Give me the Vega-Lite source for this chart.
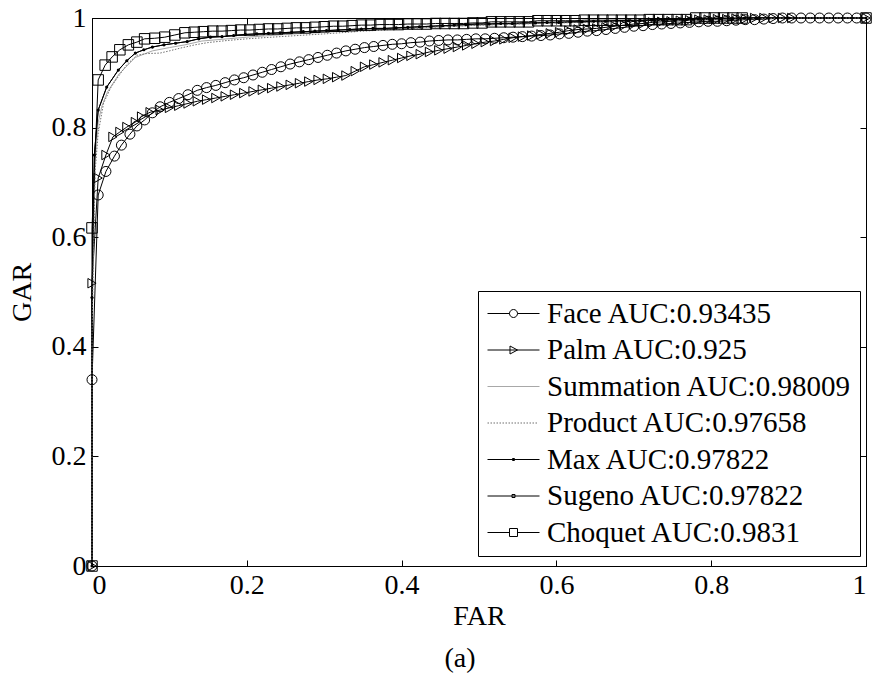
{
"$schema":"https://vega.github.io/schema/vega-lite/v6.json",
"width":774,"height":548,
"autosize":{"type":"none"},
"padding":{"left":92,"top":18,"right":6,"bottom":113},
"background":"white",
"config":{
 "font":"Liberation Serif",
 "view":{"stroke":"black","strokeWidth":1}
},
"title":{"text":"(a)","orient":"bottom","font":"Liberation Serif","fontSize":28,"fontWeight":"normal","color":"black","dx":-19,"offset":15},
"data":{"values":[
{"s":"Face","x":0,"y":0},{"s":"Face","x":0,"y":0.34},{"s":"Face","x":0.008,"y":0.677},{"s":"Face","x":0.018,"y":0.72},{"s":"Face","x":0.029,"y":0.748},{"s":"Face","x":0.038,"y":0.768},{"s":"Face","x":0.049,"y":0.788},{"s":"Face","x":0.058,"y":0.803},{"s":"Face","x":0.068,"y":0.814},{"s":"Face","x":0.078,"y":0.827},{"s":"Face","x":0.088,"y":0.838},{"s":"Face","x":0.1,"y":0.846},{"s":"Face","x":0.112,"y":0.853},{"s":"Face","x":0.124,"y":0.86},{"s":"Face","x":0.136,"y":0.868},{"s":"Face","x":0.148,"y":0.873},{"s":"Face","x":0.16,"y":0.877},{"s":"Face","x":0.172,"y":0.882},{"s":"Face","x":0.184,"y":0.887},{"s":"Face","x":0.196,"y":0.891},{"s":"Face","x":0.208,"y":0.896},{"s":"Face","x":0.22,"y":0.901},{"s":"Face","x":0.232,"y":0.906},{"s":"Face","x":0.244,"y":0.911},{"s":"Face","x":0.256,"y":0.916},{"s":"Face","x":0.268,"y":0.92},{"s":"Face","x":0.28,"y":0.924},{"s":"Face","x":0.292,"y":0.928},{"s":"Face","x":0.304,"y":0.932},{"s":"Face","x":0.316,"y":0.936},{"s":"Face","x":0.328,"y":0.94},{"s":"Face","x":0.34,"y":0.943},{"s":"Face","x":0.352,"y":0.946},{"s":"Face","x":0.364,"y":0.948},{"s":"Face","x":0.376,"y":0.95},{"s":"Face","x":0.388,"y":0.952},{"s":"Face","x":0.4,"y":0.953},{"s":"Face","x":0.412,"y":0.955},{"s":"Face","x":0.424,"y":0.956},{"s":"Face","x":0.436,"y":0.958},{"s":"Face","x":0.448,"y":0.959},{"s":"Face","x":0.46,"y":0.96},{"s":"Face","x":0.472,"y":0.96},{"s":"Face","x":0.484,"y":0.961},{"s":"Face","x":0.496,"y":0.962},{"s":"Face","x":0.508,"y":0.962},{"s":"Face","x":0.52,"y":0.963},{"s":"Face","x":0.532,"y":0.964},{"s":"Face","x":0.544,"y":0.965},{"s":"Face","x":0.556,"y":0.966},{"s":"Face","x":0.568,"y":0.967},{"s":"Face","x":0.58,"y":0.968},{"s":"Face","x":0.592,"y":0.969},{"s":"Face","x":0.604,"y":0.971},{"s":"Face","x":0.616,"y":0.972},{"s":"Face","x":0.628,"y":0.974},{"s":"Face","x":0.64,"y":0.976},{"s":"Face","x":0.652,"y":0.977},{"s":"Face","x":0.664,"y":0.979},{"s":"Face","x":0.676,"y":0.981},{"s":"Face","x":0.688,"y":0.983},{"s":"Face","x":0.7,"y":0.985},{"s":"Face","x":0.712,"y":0.986},{"s":"Face","x":0.724,"y":0.988},{"s":"Face","x":0.736,"y":0.989},{"s":"Face","x":0.748,"y":0.99},{"s":"Face","x":0.76,"y":0.991},{"s":"Face","x":0.772,"y":0.992},{"s":"Face","x":0.784,"y":0.993},{"s":"Face","x":0.796,"y":0.994},{"s":"Face","x":0.808,"y":0.994},{"s":"Face","x":0.82,"y":0.995},{"s":"Face","x":0.832,"y":0.996},{"s":"Face","x":0.844,"y":0.997},{"s":"Face","x":0.856,"y":0.997},{"s":"Face","x":0.868,"y":0.998},{"s":"Face","x":0.88,"y":0.999},{"s":"Face","x":0.892,"y":1},{"s":"Face","x":0.904,"y":1},{"s":"Face","x":0.916,"y":1},{"s":"Face","x":0.928,"y":1},{"s":"Face","x":0.94,"y":1},{"s":"Face","x":0.952,"y":1},{"s":"Face","x":0.964,"y":1},{"s":"Face","x":0.976,"y":1},{"s":"Face","x":0.988,"y":1},{"s":"Face","x":1,"y":1},
{"s":"Palm","x":0,"y":0},{"s":"Palm","x":0,"y":0.516},{"s":"Palm","x":0.008,"y":0.708},{"s":"Palm","x":0.018,"y":0.75},{"s":"Palm","x":0.027,"y":0.783},{"s":"Palm","x":0.036,"y":0.792},{"s":"Palm","x":0.045,"y":0.801},{"s":"Palm","x":0.056,"y":0.81},{"s":"Palm","x":0.064,"y":0.82},{"s":"Palm","x":0.075,"y":0.828},{"s":"Palm","x":0.088,"y":0.832},{"s":"Palm","x":0.1,"y":0.836},{"s":"Palm","x":0.112,"y":0.84},{"s":"Palm","x":0.124,"y":0.844},{"s":"Palm","x":0.136,"y":0.848},{"s":"Palm","x":0.148,"y":0.851},{"s":"Palm","x":0.16,"y":0.854},{"s":"Palm","x":0.172,"y":0.857},{"s":"Palm","x":0.184,"y":0.86},{"s":"Palm","x":0.196,"y":0.863},{"s":"Palm","x":0.208,"y":0.866},{"s":"Palm","x":0.22,"y":0.869},{"s":"Palm","x":0.232,"y":0.872},{"s":"Palm","x":0.244,"y":0.875},{"s":"Palm","x":0.256,"y":0.878},{"s":"Palm","x":0.268,"y":0.881},{"s":"Palm","x":0.28,"y":0.884},{"s":"Palm","x":0.292,"y":0.887},{"s":"Palm","x":0.304,"y":0.889},{"s":"Palm","x":0.316,"y":0.892},{"s":"Palm","x":0.328,"y":0.895},{"s":"Palm","x":0.34,"y":0.903},{"s":"Palm","x":0.352,"y":0.911},{"s":"Palm","x":0.364,"y":0.915},{"s":"Palm","x":0.376,"y":0.919},{"s":"Palm","x":0.388,"y":0.923},{"s":"Palm","x":0.4,"y":0.927},{"s":"Palm","x":0.412,"y":0.931},{"s":"Palm","x":0.424,"y":0.934},{"s":"Palm","x":0.436,"y":0.938},{"s":"Palm","x":0.448,"y":0.941},{"s":"Palm","x":0.46,"y":0.944},{"s":"Palm","x":0.472,"y":0.947},{"s":"Palm","x":0.484,"y":0.95},{"s":"Palm","x":0.496,"y":0.953},{"s":"Palm","x":0.508,"y":0.956},{"s":"Palm","x":0.52,"y":0.958},{"s":"Palm","x":0.532,"y":0.961},{"s":"Palm","x":0.544,"y":0.964},{"s":"Palm","x":0.556,"y":0.966},{"s":"Palm","x":0.568,"y":0.968},{"s":"Palm","x":0.58,"y":0.97},{"s":"Palm","x":0.592,"y":0.972},{"s":"Palm","x":0.604,"y":0.974},{"s":"Palm","x":0.616,"y":0.977},{"s":"Palm","x":0.628,"y":0.979},{"s":"Palm","x":0.64,"y":0.98},{"s":"Palm","x":0.652,"y":0.981},{"s":"Palm","x":0.664,"y":0.983},{"s":"Palm","x":0.676,"y":0.985},{"s":"Palm","x":0.688,"y":0.987},{"s":"Palm","x":0.7,"y":0.989},{"s":"Palm","x":0.712,"y":0.99},{"s":"Palm","x":0.724,"y":0.992},{"s":"Palm","x":0.736,"y":0.993},{"s":"Palm","x":0.748,"y":0.994},{"s":"Palm","x":0.76,"y":0.995},{"s":"Palm","x":0.772,"y":0.996},{"s":"Palm","x":0.784,"y":0.997},{"s":"Palm","x":0.796,"y":0.997},{"s":"Palm","x":0.808,"y":0.998},{"s":"Palm","x":0.82,"y":0.998},{"s":"Palm","x":0.832,"y":0.999},{"s":"Palm","x":0.844,"y":0.999},{"s":"Palm","x":0.856,"y":1},{"s":"Palm","x":0.868,"y":1},{"s":"Palm","x":0.88,"y":1},{"s":"Palm","x":0.892,"y":1},{"s":"Palm","x":0.904,"y":1},{"s":"Palm","x":1,"y":1},
{"s":"Summation","x":0,"y":0},{"s":"Summation","x":0,"y":0.45},{"s":"Summation","x":0.004,"y":0.74},{"s":"Summation","x":0.008,"y":0.81},{"s":"Summation","x":0.013,"y":0.84},{"s":"Summation","x":0.02,"y":0.865},{"s":"Summation","x":0.035,"y":0.898},{"s":"Summation","x":0.056,"y":0.928},{"s":"Summation","x":0.078,"y":0.94},{"s":"Summation","x":0.1,"y":0.946},{"s":"Summation","x":0.12,"y":0.951},{"s":"Summation","x":0.142,"y":0.958},{"s":"Summation","x":0.2,"y":0.965},{"s":"Summation","x":0.25,"y":0.97},{"s":"Summation","x":0.3,"y":0.974},{"s":"Summation","x":0.35,"y":0.978},{"s":"Summation","x":0.4,"y":0.981},{"s":"Summation","x":0.5,"y":0.987},{"s":"Summation","x":0.6,"y":0.991},{"s":"Summation","x":0.7,"y":0.995},{"s":"Summation","x":0.8,"y":0.998},{"s":"Summation","x":0.9,"y":1},{"s":"Summation","x":1,"y":1},
{"s":"Product","x":0,"y":0},{"s":"Product","x":0,"y":0.42},{"s":"Product","x":0.004,"y":0.72},{"s":"Product","x":0.008,"y":0.79},{"s":"Product","x":0.015,"y":0.845},{"s":"Product","x":0.025,"y":0.875},{"s":"Product","x":0.035,"y":0.895},{"s":"Product","x":0.045,"y":0.915},{"s":"Product","x":0.058,"y":0.932},{"s":"Product","x":0.07,"y":0.935},{"s":"Product","x":0.088,"y":0.936},{"s":"Product","x":0.1,"y":0.94},{"s":"Product","x":0.114,"y":0.945},{"s":"Product","x":0.133,"y":0.951},{"s":"Product","x":0.149,"y":0.955},{"s":"Product","x":0.175,"y":0.959},{"s":"Product","x":0.2,"y":0.962},{"s":"Product","x":0.243,"y":0.966},{"s":"Product","x":0.3,"y":0.971},{"s":"Product","x":0.35,"y":0.976},{"s":"Product","x":0.4,"y":0.98},{"s":"Product","x":0.45,"y":0.984},{"s":"Product","x":0.5,"y":0.987},{"s":"Product","x":0.6,"y":0.991},{"s":"Product","x":0.7,"y":0.994},{"s":"Product","x":0.8,"y":0.997},{"s":"Product","x":0.9,"y":1},{"s":"Product","x":1,"y":1},
{"s":"Max","x":0,"y":0},{"s":"Max","x":0,"y":0.49},{"s":"Max","x":0.003,"y":0.75},{"s":"Max","x":0.008,"y":0.832},{"s":"Max","x":0.019,"y":0.874},{"s":"Max","x":0.034,"y":0.905},{"s":"Max","x":0.045,"y":0.922},{"s":"Max","x":0.056,"y":0.936},{"s":"Max","x":0.067,"y":0.942},{"s":"Max","x":0.078,"y":0.947},{"s":"Max","x":0.093,"y":0.951},{"s":"Max","x":0.108,"y":0.954},{"s":"Max","x":0.123,"y":0.957},{"s":"Max","x":0.138,"y":0.962},{"s":"Max","x":0.153,"y":0.965},{"s":"Max","x":0.168,"y":0.966},{"s":"Max","x":0.183,"y":0.968},{"s":"Max","x":0.198,"y":0.97},{"s":"Max","x":0.213,"y":0.971},{"s":"Max","x":0.228,"y":0.972},{"s":"Max","x":0.243,"y":0.973},{"s":"Max","x":0.258,"y":0.974},{"s":"Max","x":0.273,"y":0.975},{"s":"Max","x":0.288,"y":0.976},{"s":"Max","x":0.303,"y":0.977},{"s":"Max","x":0.318,"y":0.978},{"s":"Max","x":0.333,"y":0.979},{"s":"Max","x":0.348,"y":0.98},{"s":"Max","x":0.363,"y":0.981},{"s":"Max","x":0.378,"y":0.981},{"s":"Max","x":0.393,"y":0.982},{"s":"Max","x":0.408,"y":0.983},{"s":"Max","x":0.423,"y":0.984},{"s":"Max","x":0.438,"y":0.985},{"s":"Max","x":0.453,"y":0.986},{"s":"Max","x":0.468,"y":0.987},{"s":"Max","x":0.483,"y":0.988},{"s":"Max","x":0.498,"y":0.989},{"s":"Max","x":0.513,"y":0.989},{"s":"Max","x":0.528,"y":0.99},{"s":"Max","x":0.543,"y":0.99},{"s":"Max","x":0.558,"y":0.991},{"s":"Max","x":0.573,"y":0.991},{"s":"Max","x":0.588,"y":0.992},{"s":"Max","x":0.603,"y":0.992},{"s":"Max","x":0.618,"y":0.993},{"s":"Max","x":0.633,"y":0.993},{"s":"Max","x":0.648,"y":0.994},{"s":"Max","x":0.663,"y":0.994},{"s":"Max","x":0.678,"y":0.995},{"s":"Max","x":0.693,"y":0.995},{"s":"Max","x":0.708,"y":0.995},{"s":"Max","x":0.723,"y":0.996},{"s":"Max","x":0.738,"y":0.996},{"s":"Max","x":0.753,"y":0.997},{"s":"Max","x":0.768,"y":0.997},{"s":"Max","x":0.783,"y":0.998},{"s":"Max","x":0.798,"y":0.998},{"s":"Max","x":0.813,"y":0.999},{"s":"Max","x":0.828,"y":0.999},{"s":"Max","x":0.843,"y":1},{"s":"Max","x":0.858,"y":1},{"s":"Max","x":0.9,"y":1},{"s":"Max","x":1,"y":1},
{"s":"Sugeno","x":0,"y":0},{"s":"Sugeno","x":0,"y":0.49},{"s":"Sugeno","x":0.003,"y":0.75},{"s":"Sugeno","x":0.008,"y":0.832},{"s":"Sugeno","x":0.019,"y":0.874},{"s":"Sugeno","x":0.034,"y":0.905},{"s":"Sugeno","x":0.045,"y":0.922},{"s":"Sugeno","x":0.056,"y":0.936},{"s":"Sugeno","x":0.067,"y":0.942},{"s":"Sugeno","x":0.078,"y":0.947},{"s":"Sugeno","x":0.093,"y":0.951},{"s":"Sugeno","x":0.108,"y":0.954},{"s":"Sugeno","x":0.123,"y":0.957},{"s":"Sugeno","x":0.138,"y":0.962},{"s":"Sugeno","x":0.153,"y":0.965},{"s":"Sugeno","x":0.168,"y":0.966},{"s":"Sugeno","x":0.183,"y":0.968},{"s":"Sugeno","x":0.198,"y":0.97},{"s":"Sugeno","x":0.213,"y":0.971},{"s":"Sugeno","x":0.228,"y":0.972},{"s":"Sugeno","x":0.243,"y":0.973},{"s":"Sugeno","x":0.258,"y":0.974},{"s":"Sugeno","x":0.273,"y":0.975},{"s":"Sugeno","x":0.288,"y":0.976},{"s":"Sugeno","x":0.303,"y":0.977},{"s":"Sugeno","x":0.318,"y":0.978},{"s":"Sugeno","x":0.333,"y":0.979},{"s":"Sugeno","x":0.348,"y":0.98},{"s":"Sugeno","x":0.363,"y":0.981},{"s":"Sugeno","x":0.378,"y":0.981},{"s":"Sugeno","x":0.393,"y":0.982},{"s":"Sugeno","x":0.408,"y":0.983},{"s":"Sugeno","x":0.423,"y":0.984},{"s":"Sugeno","x":0.438,"y":0.985},{"s":"Sugeno","x":0.453,"y":0.986},{"s":"Sugeno","x":0.468,"y":0.987},{"s":"Sugeno","x":0.483,"y":0.988},{"s":"Sugeno","x":0.498,"y":0.989},{"s":"Sugeno","x":0.513,"y":0.989},{"s":"Sugeno","x":0.528,"y":0.99},{"s":"Sugeno","x":0.543,"y":0.99},{"s":"Sugeno","x":0.558,"y":0.991},{"s":"Sugeno","x":0.573,"y":0.991},{"s":"Sugeno","x":0.588,"y":0.992},{"s":"Sugeno","x":0.603,"y":0.992},{"s":"Sugeno","x":0.618,"y":0.993},{"s":"Sugeno","x":0.633,"y":0.993},{"s":"Sugeno","x":0.648,"y":0.994},{"s":"Sugeno","x":0.663,"y":0.994},{"s":"Sugeno","x":0.678,"y":0.995},{"s":"Sugeno","x":0.693,"y":0.995},{"s":"Sugeno","x":0.708,"y":0.995},{"s":"Sugeno","x":0.723,"y":0.996},{"s":"Sugeno","x":0.738,"y":0.996},{"s":"Sugeno","x":0.753,"y":0.997},{"s":"Sugeno","x":0.768,"y":0.997},{"s":"Sugeno","x":0.783,"y":0.998},{"s":"Sugeno","x":0.798,"y":0.998},{"s":"Sugeno","x":0.813,"y":0.999},{"s":"Sugeno","x":0.828,"y":0.999},{"s":"Sugeno","x":0.843,"y":1},{"s":"Sugeno","x":0.858,"y":1},{"s":"Sugeno","x":0.9,"y":1},{"s":"Sugeno","x":1,"y":1},
{"s":"Choquet","x":0,"y":0},{"s":"Choquet","x":0,"y":0.617},{"s":"Choquet","x":0.008,"y":0.887},{"s":"Choquet","x":0.017,"y":0.914},{"s":"Choquet","x":0.026,"y":0.929},{"s":"Choquet","x":0.036,"y":0.942},{"s":"Choquet","x":0.047,"y":0.951},{"s":"Choquet","x":0.058,"y":0.956},{"s":"Choquet","x":0.068,"y":0.962},{"s":"Choquet","x":0.081,"y":0.963},{"s":"Choquet","x":0.094,"y":0.965},{"s":"Choquet","x":0.107,"y":0.969},{"s":"Choquet","x":0.12,"y":0.973},{"s":"Choquet","x":0.132,"y":0.974},{"s":"Choquet","x":0.144,"y":0.975},{"s":"Choquet","x":0.156,"y":0.976},{"s":"Choquet","x":0.168,"y":0.976},{"s":"Choquet","x":0.18,"y":0.977},{"s":"Choquet","x":0.192,"y":0.978},{"s":"Choquet","x":0.204,"y":0.978},{"s":"Choquet","x":0.216,"y":0.979},{"s":"Choquet","x":0.228,"y":0.98},{"s":"Choquet","x":0.24,"y":0.98},{"s":"Choquet","x":0.252,"y":0.981},{"s":"Choquet","x":0.264,"y":0.982},{"s":"Choquet","x":0.276,"y":0.982},{"s":"Choquet","x":0.288,"y":0.983},{"s":"Choquet","x":0.3,"y":0.984},{"s":"Choquet","x":0.312,"y":0.985},{"s":"Choquet","x":0.324,"y":0.985},{"s":"Choquet","x":0.336,"y":0.986},{"s":"Choquet","x":0.348,"y":0.987},{"s":"Choquet","x":0.36,"y":0.987},{"s":"Choquet","x":0.372,"y":0.988},{"s":"Choquet","x":0.384,"y":0.988},{"s":"Choquet","x":0.396,"y":0.988},{"s":"Choquet","x":0.408,"y":0.989},{"s":"Choquet","x":0.42,"y":0.989},{"s":"Choquet","x":0.432,"y":0.989},{"s":"Choquet","x":0.444,"y":0.99},{"s":"Choquet","x":0.456,"y":0.99},{"s":"Choquet","x":0.468,"y":0.99},{"s":"Choquet","x":0.48,"y":0.99},{"s":"Choquet","x":0.492,"y":0.991},{"s":"Choquet","x":0.504,"y":0.991},{"s":"Choquet","x":0.516,"y":0.993},{"s":"Choquet","x":0.528,"y":0.993},{"s":"Choquet","x":0.54,"y":0.993},{"s":"Choquet","x":0.552,"y":0.993},{"s":"Choquet","x":0.564,"y":0.993},{"s":"Choquet","x":0.576,"y":0.995},{"s":"Choquet","x":0.588,"y":0.995},{"s":"Choquet","x":0.6,"y":0.995},{"s":"Choquet","x":0.612,"y":0.995},{"s":"Choquet","x":0.624,"y":0.995},{"s":"Choquet","x":0.636,"y":0.996},{"s":"Choquet","x":0.648,"y":0.996},{"s":"Choquet","x":0.66,"y":0.996},{"s":"Choquet","x":0.672,"y":0.996},{"s":"Choquet","x":0.684,"y":0.996},{"s":"Choquet","x":0.696,"y":0.996},{"s":"Choquet","x":0.708,"y":0.996},{"s":"Choquet","x":0.72,"y":0.997},{"s":"Choquet","x":0.732,"y":0.997},{"s":"Choquet","x":0.744,"y":0.997},{"s":"Choquet","x":0.756,"y":0.997},{"s":"Choquet","x":0.768,"y":0.997},{"s":"Choquet","x":0.78,"y":1},{"s":"Choquet","x":0.792,"y":1},{"s":"Choquet","x":0.804,"y":1},{"s":"Choquet","x":0.816,"y":1},{"s":"Choquet","x":0.828,"y":1},{"s":"Choquet","x":0.84,"y":1},{"s":"Choquet","x":1,"y":1}
]},
"resolve":{"axis":{"x":"independent","y":"independent"}},
"layer":[
 {"transform":[{"filter":"datum.s != 'Product'"}],
  "mark":{"type":"line","strokeWidth":1,"clip":false},
  "encoding":{
   "x":{"field":"x","type":"quantitative","scale":{"domain":[0,1],"nice":false,"zero":false},"axis":{"orient":"bottom","title":"FAR","values":[0,0.2,0.4,0.6,0.8,1],"format":"~g","grid":false,"domainColor":"black","tickColor":"black","tickSize":-6,"labelPadding":11,"labelFont":"Liberation Serif","labelFontSize":28,"labelColor":"black","titleFont":"Liberation Serif","titleFontSize":28,"titleFontWeight":"normal","titleColor":"black","titlePadding":3}},
   "y":{"field":"y","type":"quantitative","scale":{"domain":[0,1],"nice":false,"zero":false},"axis":{"orient":"left","title":"GAR","values":[0,0.2,0.4,0.6,0.8,1],"format":"~g","grid":false,"domainColor":"black","tickColor":"black","tickSize":-6,"labelPadding":12,"labelFont":"Liberation Serif","labelFontSize":28,"labelColor":"black","titleFont":"Liberation Serif","titleFontSize":28,"titleFontWeight":"normal","titleColor":"black","titlePadding":15}},
   "stroke":{"field":"s","type":"nominal","scale":{"domain":["Face","Palm","Summation","Max","Sugeno","Choquet"],"range":["#000000","#000000","#a8a8a8","#000000","#000000","#000000"]},"legend":null}
  }},
 {"transform":[{"filter":"datum.s == 'Product'"}],
  "mark":{"type":"line","strokeWidth":1,"stroke":"#6e6e6e","strokeDash":[1.5,1.5],"clip":false},
  "encoding":{
   "x":{"field":"x","type":"quantitative","axis":{"orient":"top","labels":false,"title":null,"domain":false,"grid":false,"values":[0,0.2,0.4,0.6,0.8,1],"tickColor":"black","tickSize":-6}},
   "y":{"field":"y","type":"quantitative","axis":{"orient":"right","labels":false,"title":null,"domain":false,"grid":false,"values":[0,0.2,0.4,0.6,0.8,1],"tickColor":"black","tickSize":-6}}
  }},
 {"transform":[{"filter":"datum.s == 'Face'"}],
  "mark":{"type":"point","shape":"circle","filled":false,"size":100,"color":"black","strokeWidth":1,"opacity":1},
  "encoding":{
   "x":{"field":"x","type":"quantitative","axis":null},
   "y":{"field":"y","type":"quantitative","axis":null}
  }},
 {"transform":[{"filter":"datum.s == 'Palm'"}],
  "mark":{"type":"point","shape":"triangle-right","filled":false,"size":90,"color":"black","strokeWidth":1,"opacity":1},
  "encoding":{
   "x":{"field":"x","type":"quantitative","axis":null},
   "y":{"field":"y","type":"quantitative","axis":null}
  }},
 {"transform":[{"filter":"datum.s == 'Choquet'"}],
  "mark":{"type":"point","shape":"square","filled":false,"size":110,"color":"black","strokeWidth":1,"opacity":1},
  "encoding":{
   "x":{"field":"x","type":"quantitative","axis":null},
   "y":{"field":"y","type":"quantitative","axis":null}
  }},
 {"transform":[{"filter":"datum.s == 'Max'"}],
  "mark":{"type":"point","shape":"circle","filled":true,"size":5,"color":"black","opacity":1},
  "encoding":{
   "x":{"field":"x","type":"quantitative","axis":null},
   "y":{"field":"y","type":"quantitative","axis":null}
  }},
 {"transform":[{"filter":"datum.s == 'Sugeno'"}],
  "mark":{"type":"point","shape":"circle","filled":true,"size":10,"color":"black","opacity":1},
  "encoding":{
   "x":{"field":"x","type":"quantitative","axis":null},
   "y":{"field":"y","type":"quantitative","axis":null}
  }},
 {"transform":[{"filter":"datum.x == 1"}],
  "mark":{"type":"point","filled":false,"opacity":0},
  "encoding":{
   "x":{"field":"x","type":"quantitative","axis":null},
   "y":{"field":"y","type":"quantitative","axis":null},
   "shape":{"field":"s","type":"nominal","scale":{"domain":["Face","Palm","Summation","Product","Max","Sugeno","Choquet"],"range":["M-1.3,0H0.9M1.7,0H3.9M0.9,0A0.4,0.4 0 1,1 1.7,0A0.4,0.4 0 1,1 0.9,0","M-1.3,0H3.9M0.95,-0.4L1.7,0L0.95,0.4Z","M-1.3,0H3.9","M-1.3,0h0.15m0.15,0h0.15m0.15,0h0.15m0.15,0h0.15m0.15,0h0.15m0.15,0h0.15m0.15,0h0.15m0.15,0h0.15m0.15,0h0.15m0.15,0h0.15m0.15,0h0.15m0.15,0h0.15m0.15,0h0.15m0.15,0h0.15m0.15,0h0.15m0.15,0h0.15m0.15,0h0.15","M-1.3,0H3.9M1.2,-0.1H1.4V0.1H1.2Z","M-1.3,0H3.9M1.15,-0.15H1.45V0.15H1.15Z","M-1.3,0H0.9M1.7,0H3.9M0.9,-0.4H1.7V0.4H0.9Z"]},
    "legend":{"orient":"none","legendX":386,"legendY":273,"title":null,"strokeColor":"black","fillColor":"white","padding":8,"labelFont":"Liberation Serif","labelFontSize":29,"labelColor":"black","labelLimit":500,"symbolSize":400,"symbolStrokeWidth":1,"symbolOpacity":1,"labelOffset":32,"rowPadding":6.5,
     "labelExpr":"datum.label == 'Face' ? 'Face AUC:0.93435' : datum.label == 'Palm' ? 'Palm AUC:0.925' : datum.label == 'Summation' ? 'Summation AUC:0.98009' : datum.label == 'Product' ? 'Product AUC:0.97658' : datum.label == 'Max' ? 'Max AUC:0.97822' : datum.label == 'Sugeno' ? 'Sugeno AUC:0.97822' : 'Choquet AUC:0.9831'"}},
   "color":{"field":"s","type":"nominal","scale":{"domain":["Face","Palm","Summation","Product","Max","Sugeno","Choquet"],"range":["#000000","#000000","#a8a8a8","#6e6e6e","#000000","#000000","#000000"]}}
  }}
]
}
